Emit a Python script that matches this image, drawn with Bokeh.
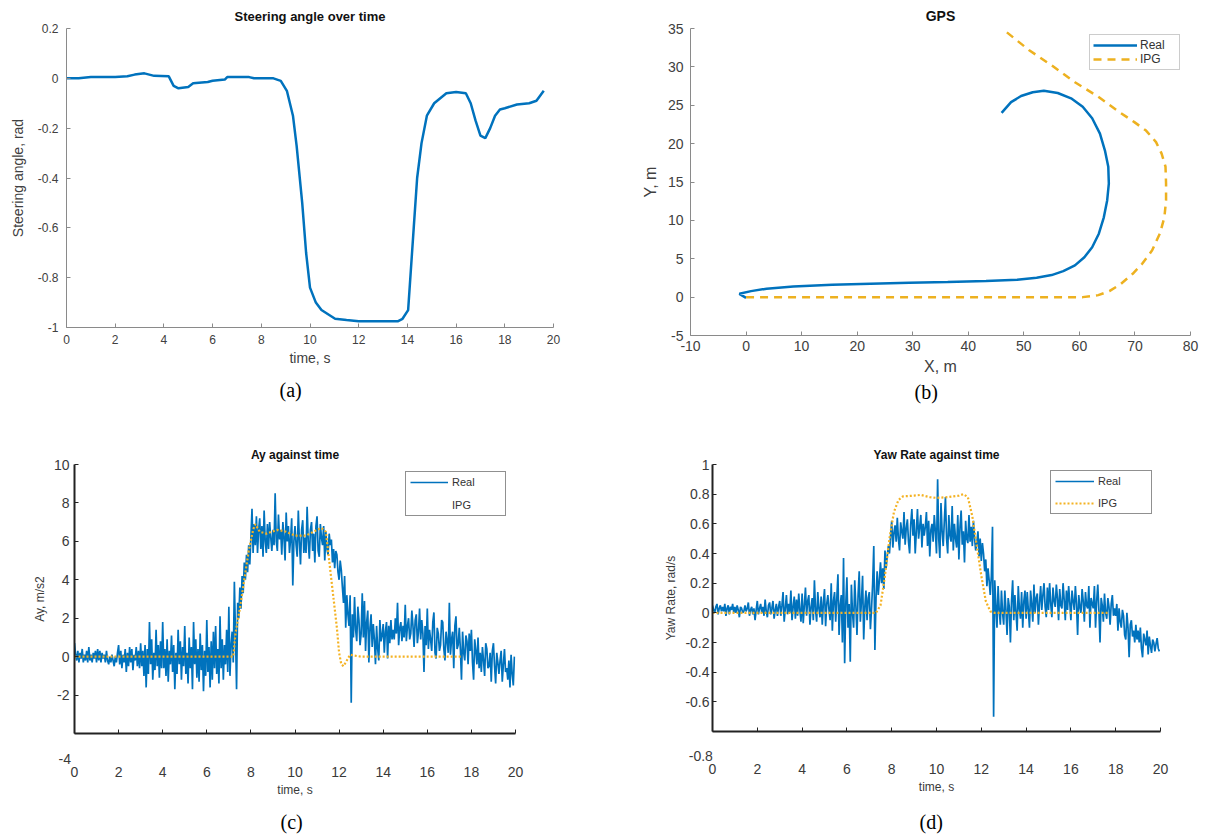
from bokeh.plotting import figure
from bokeh.models import Range1d, FixedTicker, Legend, LegendItem, Title
from bokeh.layouts import column, row
from bokeh.embed import file_html
from bokeh.resources import INLINE

# ---------------- data ----------------
# (a) steering angle
steer_t = [0, 0.5, 1, 2, 2.5, 2.8, 3.2, 3.6, 4.2, 4.4, 4.6, 5.0, 5.2, 5.8, 6.0, 6.5, 6.6, 7.5, 7.7, 8.5,
           8.8, 9.05, 9.3, 9.45, 9.68, 9.84, 10.0, 10.24, 10.47, 11.03, 11.5, 12.0, 13.0, 13.6, 13.8, 14.03,
           14.26, 14.4, 14.58, 14.8, 15.1, 15.6, 16.0, 16.4, 16.6, 16.8, 17.0, 17.2, 17.4, 17.6, 17.8, 18.0,
           18.5, 19.0, 19.3, 19.6]
steer_v = [0.0, 0.0, 0.005, 0.005, 0.008, 0.015, 0.02, 0.01, 0.008, -0.03, -0.04, -0.035, -0.02, -0.015,
           -0.01, -0.005, 0.005, 0.005, 0.0, 0.0, -0.01, -0.05, -0.15, -0.27, -0.5, -0.7, -0.84, -0.9, -0.93,
           -0.965, -0.97, -0.975, -0.975, -0.975, -0.965, -0.93, -0.6, -0.4, -0.26, -0.15, -0.1, -0.06,
           -0.055, -0.06, -0.1, -0.17, -0.23, -0.24, -0.2, -0.15, -0.125, -0.12, -0.105, -0.1, -0.09, -0.05]

# (b) GPS
gps_real_x = [0, -1.2, 0.9, 3.7, 8.5, 15.5, 22.4, 29.4, 36.3, 43.2, 48.8, 52.3, 55.0, 57.1, 59.2, 60.9,
              62.3, 63.5, 64.4, 65.0, 65.3, 65.2, 64.6, 63.7, 62.3, 60.6, 58.5, 56.1, 53.6, 51.6, 49.5,
              47.7, 46.0]
gps_real_y = [-0.1, 0.43, 0.78, 1.1, 1.39, 1.6, 1.74, 1.87, 1.96, 2.09, 2.26, 2.52, 2.87, 3.39, 4.13, 5.2,
              6.5, 8.26, 10.4, 12.6, 14.8, 17.0, 19.1, 21.3, 23.3, 24.8, 25.9, 26.6, 26.9, 26.7, 26.2,
              25.4, 24.0]
gps_ipg_x = [0, 10, 20, 30, 40, 50, 60.6, 63.4, 65.4, 67.5, 69.6, 71.3, 73.1, 74.5, 75.3, 75.6, 75.6,
             75.5, 74.8, 73.8, 72.0, 69.9, 66.8, 63.4, 59.2, 55.0, 50.9, 46.6]
gps_ipg_y = [0, 0, 0, 0, 0, 0, 0, 0.26, 0.78, 1.74, 3.04, 4.35, 6.1, 8.3, 10.4, 12.6, 14.8,
             17.0, 18.7, 20.2, 21.7, 22.8, 24.3, 26.1, 28.0, 30.2, 32.2, 34.7]

# sample times of the measured signals (s)
sig_t = [
    0.0, 0.05, 0.1, 0.15, 0.2, 0.25, 0.3, 0.35, 0.4, 0.45, 0.5, 0.55, 0.6, 0.65, 0.7, 0.75, 0.8, 0.85, 0.9, 0.95,
    1.0, 1.05, 1.1, 1.15, 1.2, 1.25, 1.3, 1.35, 1.4, 1.45, 1.5, 1.55, 1.6, 1.65, 1.7, 1.75, 1.8, 1.85, 1.9, 1.95,
    2.0, 2.05, 2.1, 2.15, 2.2, 2.25, 2.3, 2.35, 2.4, 2.45, 2.5, 2.55, 2.6, 2.65, 2.7, 2.75, 2.8, 2.85, 2.9, 2.95,
    3.0, 3.05, 3.1, 3.15, 3.2, 3.25, 3.3, 3.35, 3.4, 3.45, 3.5, 3.55, 3.6, 3.65, 3.7, 3.75, 3.8, 3.85, 3.9, 3.95,
    4.0, 4.05, 4.1, 4.15, 4.2, 4.25, 4.3, 4.35, 4.4, 4.45, 4.5, 4.55, 4.6, 4.65, 4.7, 4.75, 4.8, 4.85, 4.9, 4.95,
    5.0, 5.05, 5.1, 5.15, 5.2, 5.25, 5.3, 5.35, 5.4, 5.45, 5.5, 5.55, 5.6, 5.65, 5.7, 5.75, 5.8, 5.85, 5.9, 5.95,
    6.0, 6.05, 6.1, 6.15, 6.2, 6.25, 6.3, 6.35, 6.4, 6.45, 6.5, 6.55, 6.6, 6.65, 6.7, 6.75, 6.8, 6.85, 6.9, 6.95,
    7.0, 7.05, 7.1, 7.15, 7.2, 7.25, 7.3, 7.35, 7.4, 7.45, 7.5, 7.55, 7.6, 7.65, 7.7, 7.75, 7.8, 7.85, 7.9, 7.95,
    8.0, 8.05, 8.1, 8.15, 8.2, 8.25, 8.3, 8.35, 8.4, 8.45, 8.5, 8.55, 8.6, 8.65, 8.7, 8.75, 8.8, 8.85, 8.9, 8.95,
    9.0, 9.05, 9.1, 9.15, 9.2, 9.25, 9.3, 9.35, 9.4, 9.45, 9.5, 9.55, 9.6, 9.65, 9.7, 9.75, 9.8, 9.85, 9.9, 9.95,
    10.0, 10.05, 10.1, 10.15, 10.2, 10.25, 10.3, 10.35, 10.4, 10.45, 10.5, 10.55, 10.6, 10.65, 10.7, 10.75, 10.8, 10.85, 10.9, 10.95,
    11.0, 11.05, 11.1, 11.15, 11.2, 11.25, 11.3, 11.35, 11.4, 11.45, 11.5, 11.55, 11.6, 11.65, 11.7, 11.75, 11.8, 11.85, 11.9, 11.95,
    12.0, 12.05, 12.1, 12.15, 12.2, 12.25, 12.3, 12.35, 12.4, 12.45, 12.5, 12.55, 12.6, 12.65, 12.7, 12.75, 12.8, 12.85, 12.9, 12.95,
    13.0, 13.05, 13.1, 13.15, 13.2, 13.25, 13.3, 13.35, 13.4, 13.45, 13.5, 13.55, 13.6, 13.65, 13.7, 13.75, 13.8, 13.85, 13.9, 13.95,
    14.0, 14.05, 14.1, 14.15, 14.2, 14.25, 14.3, 14.35, 14.4, 14.45, 14.5, 14.55, 14.6, 14.65, 14.7, 14.75, 14.8, 14.85, 14.9, 14.95,
    15.0, 15.05, 15.1, 15.15, 15.2, 15.25, 15.3, 15.35, 15.4, 15.45, 15.5, 15.55, 15.6, 15.65, 15.7, 15.75, 15.8, 15.85, 15.9, 15.95,
    16.0, 16.05, 16.1, 16.15, 16.2, 16.25, 16.3, 16.35, 16.4, 16.45, 16.5, 16.55, 16.6, 16.65, 16.7, 16.75, 16.8, 16.85, 16.9, 16.95,
    17.0, 17.05, 17.1, 17.15, 17.2, 17.25, 17.3, 17.35, 17.4, 17.45, 17.5, 17.55, 17.6, 17.65, 17.7, 17.75, 17.8, 17.85, 17.9, 17.95,
    18.0, 18.05, 18.1, 18.15, 18.2, 18.25, 18.3, 18.35, 18.4, 18.45, 18.5, 18.55, 18.6, 18.65, 18.7, 18.75, 18.8, 18.85, 18.9, 18.95,
    19.0, 19.05, 19.1, 19.15, 19.2, 19.25, 19.3, 19.35, 19.4, 19.45, 19.5, 19.55, 19.6, 19.65, 19.7, 19.75, 19.8, 19.85, 19.9, 19.95]

# (c) lateral acceleration, measured (m/s2)
ay_real = [
    0.7, 0.1, -0.2, 0.3, -0.3, 0.2, -0.1, 0.4, -0.3, 0.1, -0.2, 0.3, -0.3, 0.5, -0.2, 0.1, -0.3, 0.2, -0.1, 0.3,
    -0.3, 0.4, -0.2, 0.3, -0.3, 0.2, -0.1, 0.1, -0.3, 0.3, -0.2, -0.4, 0.0, -0.3, 0.1, -0.2, -0.5, 0.0, -0.3, 0.2,
    0.6, -0.4, 0.3, -0.6, 0.1, -0.3, 0.4, -0.8, 0.2, -0.5, 0.5, -0.3, 0.4, -0.7, 0.1, -0.2, 0.5, -0.5, 0.3, -0.6,
    0.7, -0.5, 0.3, -1.0, 0.6, -1.6, 0.4, -0.9, 1.8, -0.4, 0.9, -1.2, 0.2, -0.7, 1.4, -0.5, 0.6, -1.1, 0.8, -0.6,
    1.8, -0.6, 0.4, -1.0, 0.9, -1.3, 0.3, -0.4, 1.1, -0.8, 0.6, -1.7, 0.2, -0.9, 1.4, -0.4, 0.8, -1.2, 0.5, -0.5,
    1.6, -0.9, 0.2, -1.4, 1.0, -0.6, 0.5, -1.7, 1.8, -0.4, 0.9, -1.1, 0.4, -1.3, 1.2, -0.7, 0.6, -1.8, 0.3, -1.0,
    1.9, -0.8, 0.5, -1.6, 0.8, -1.2, 1.3, -0.6, 1.6, -0.9, 0.4, -1.4, 2.1, -0.6, 0.9, -1.2, 0.6, -0.4, 1.4, -0.8,
    2.6, -1.0, 0.6, 1.3, -0.3, 3.9, 1.2, -1.7, 2.8, 2.0, 3.6, 2.5, 4.2, 3.3, 4.9, 4.0, 5.3, 4.4, 5.8, 4.8,
    6.2, 7.7, 5.4, 6.9, 5.8, 7.3, 5.4, 6.6, 7.2, 5.6, 6.8, 5.2, 7.6, 6.0, 5.4, 6.9, 5.6, 7.0, 6.2, 5.5,
    6.6, 5.8, 8.5, 6.0, 5.5, 7.4, 6.1, 6.6, 5.3, 7.0, 6.2, 5.0, 7.5, 6.0, 6.8, 5.4, 6.1, 7.2, 3.7, 6.0,
    6.8, 5.8, 5.2, 7.6, 6.0, 4.8, 6.6, 7.1, 5.4, 6.2, 5.4, 7.8, 6.0, 5.1, 6.6, 7.0, 5.5, 6.4, 4.9, 6.8,
    7.3, 5.5, 5.2, 6.9, 6.2, 5.8, 6.8, 5.0, 6.5, 5.6, 5.3, 6.4, 5.8, 6.1, 4.9, 5.6, 4.6, 5.5, 5.3, 4.4,
    4.0, 5.0, 4.5, 3.6, 2.8, 4.2, 1.5, 3.2, 2.2, 1.6, 3.2, -2.4, 2.2, 1.0, 3.1, 1.4, 0.8, 2.6, 1.9, 0.6,
    1.2, 3.3, 1.0, 2.9, 0.3, 1.8, 2.4, -0.3, 1.5, 2.2, 0.5, 1.7, 0.9, -0.4, 1.6, 0.4, -0.2, 1.9, 0.8, 1.1,
    1.7, 0.2, 1.3, 1.8, -0.1, 1.6, 0.7, 1.9, 0.9, 1.4, 0.9, 2.0, 1.2, 2.8, 0.6, 1.5, 1.8, 0.8, 1.6, 1.0,
    2.7, 0.8, 1.6, 2.0, 0.9, 1.2, 2.4, 1.6, 0.5, 1.9, 2.2, 0.7, 1.3, 2.5, 0.9, 1.9, 1.2, -0.8, 1.6, 0.6,
    2.5, 0.4, 1.4, 0.9, 0.3, 1.8, 2.3, 0.2, -0.1, 1.5, 1.2, 0.3, 0.6, 1.9, 1.8, 0.4, -0.2, 1.3, 0.8, 0.2,
    2.8, 0.1, 0.9, 1.3, -0.6, 1.6, 2.1, 0.4, 0.6, 1.5, 0.4, -1.2, 1.3, 0.2, -0.2, 1.1, 0.8, -0.4, 1.2, 0.3,
    1.4, -0.3, -1.2, 0.9, 0.3, -0.4, 1.0, -0.6, 0.2, -0.8, 0.5, -0.2, -1.0, 0.7, 0.4, -0.6, -0.5, 0.2, -1.3, 0.3,
    0.7, -0.5, -1.4, 0.2, -0.3, -0.9, -0.2, 0.3, -1.3, -0.4, 0.4, -0.8, -0.6, -1.2, -0.2, -1.6, 0.1, -0.9, -1.5, 0.0]
ay_ipg_t = [0, 7.2, 7.3, 7.5, 7.7, 7.9, 8.1, 8.2, 8.4, 8.7, 9.2, 9.6, 10.0, 10.5, 11.0, 11.2, 11.4, 11.5,
            11.7, 11.9, 12.0, 12.1, 12.2, 12.35, 12.5, 12.7, 13.0, 17.6]
ay_ipg = [0, 0, 1.2, 2.5, 4.0, 5.5, 6.6, 6.9, 6.5, 6.4, 6.6, 6.5, 6.3, 6.3, 6.6, 6.7, 6.5, 5.5,
          3.5, 1.5, 0.2, -0.4, -0.5, -0.2, 0.1, 0.05, 0, 0]

# (d) yaw rate, measured (rad/s)
yaw_real = [
    0.05, 0.02, 0.0, 0.04, 0.06, -0.01, 0.03, 0.05, 0.01, 0.04, 0.01, 0.06, -0.02, 0.03, 0.05, -0.01, 0.04, 0.02, 0.06, 0.0,
    0.04, 0.0, 0.05, 0.02, -0.03, 0.04, 0.03, 0.0, 0.01, 0.05, 0.01, 0.03, 0.07, -0.02, 0.02, 0.04, -0.01, 0.03, -0.05, 0.02,
    0.08, -0.01, 0.03, 0.06, 0.0, 0.04, -0.02, 0.09, 0.01, -0.03, 0.05, 0.07, -0.01, 0.03, 0.08, -0.04, 0.02, 0.06, -0.02, 0.04,
    0.08, -0.02, 0.05, 0.14, -0.06, 0.03, 0.12, -0.01, 0.06, 0.0, 0.15, -0.05, 0.04, 0.11, -0.04, 0.09, -0.02, 0.13, 0.02, -0.06,
    0.13, -0.07, 0.05, 0.17, -0.02, 0.08, 0.12, -0.08, 0.04, 0.1, -0.05, 0.22, 0.02, -0.06, 0.14, 0.03, -0.03, 0.11, -0.08, 0.07,
    0.16, -0.09, 0.06, 0.12, 0.02, -0.05, 0.2, -0.12, 0.08, 0.14, -0.06, 0.1, 0.26, -0.15, 0.05, 0.12, -0.2, 0.37, -0.34, 0.06,
    0.24, -0.1, 0.06, -0.33, 0.19, 0.0, -0.1, 0.22, 0.05, -0.15, 0.12, 0.28, -0.06, 0.08, 0.25, -0.18, 0.04, 0.15, -0.05, 0.1,
    0.14, -0.11, 0.03, 0.2, 0.45, -0.25, 0.1, 0.28, 0.12, 0.22, 0.34, 0.2, 0.3, 0.16, 0.42, 0.3, 0.38, 0.45, 0.4, 0.52,
    0.62, 0.44, 0.54, 0.59, 0.48, 0.64, 0.5, 0.42, 0.61, 0.55, 0.5, 0.68, 0.46, 0.57, 0.63, 0.48, 0.4, 0.6, 0.7, 0.52,
    0.63, 0.4, 0.55, 0.7, 0.5, 0.58, 0.66, 0.44, 0.6, 0.52, 0.58, 0.68, 0.45, 0.62, 0.38, 0.56, 0.6, 0.48, 0.66, 0.55,
    0.4, 0.9, 0.5, 0.37, 0.74, 0.55, 0.45, 0.62, 0.78, 0.5, 0.4, 0.66, 0.52, 0.48, 0.72, 0.42, 0.6, 0.5, 0.44, 0.66,
    0.36, 0.58, 0.69, 0.46, 0.55, 0.34, 0.62, 0.5, 0.47, 0.66, 0.48, 0.58, 0.45, 0.62, 0.5, 0.42, 0.47, 0.55, 0.38, 0.5,
    0.35, 0.47, 0.4, 0.28, 0.36, 0.18, 0.3, 0.22, 0.12, 0.25, 0.58, -0.7, 0.22, 0.05, -0.1, 0.18, 0.02, -0.08, 0.15, 0.0,
    -0.08, 0.15, 0.02, -0.15, 0.1, 0.04, -0.2, 0.08, 0.22, -0.05, 0.12, 0.0, -0.12, 0.18, 0.03, -0.04, 0.14, -0.1, 0.08, 0.15,
    -0.04, 0.14, 0.02, -0.1, 0.15, 0.06, -0.06, 0.19, 0.0, 0.1, 0.13, -0.08, 0.07, 0.18, 0.02, 0.12, 0.2, 0.04, -0.03, 0.17,
    0.02, 0.2, 0.06, -0.03, 0.17, 0.08, 0.04, 0.19, 0.1, -0.05, 0.16, 0.05, 0.03, 0.2, 0.09, -0.05, 0.15, 0.02, 0.18, 0.07,
    -0.05, 0.15, 0.08, 0.02, 0.18, 0.06, -0.15, 0.12, 0.04, 0.0, 0.16, 0.08, -0.06, 0.14, 0.05, 0.03, 0.18, -0.1, 0.1, 0.06,
    0.03, 0.18, -0.1, 0.08, 0.19, 0.02, -0.2, 0.1, 0.05, -0.06, 0.13, 0.0, -0.04, 0.1, 0.04, -0.08, 0.06, 0.12, -0.02, 0.03,
    -0.02, 0.06, -0.12, 0.03, -0.06, -0.1, 0.02, -0.02, -0.15, -0.18, 0.0, -0.1, -0.3, -0.08, -0.05, -0.16, -0.12, -0.2, -0.08, -0.18,
    -0.12, -0.2, -0.1, -0.24, -0.3, -0.14, -0.18, -0.22, -0.12, -0.28, -0.16, -0.22, -0.27, -0.18, -0.2, -0.26, -0.21, -0.17, -0.24, -0.26]
yaw_ipg_t = [0, 7.3, 7.5, 7.7, 7.9, 8.1, 8.3, 8.5, 9.0, 9.3, 9.7, 10.0, 10.5, 11.0, 11.2, 11.4, 11.6,
             11.8, 12.0, 12.2, 12.4, 12.6, 17.7]
yaw_ipg = [0, 0, 0.05, 0.25, 0.5, 0.68, 0.76, 0.785, 0.79, 0.795, 0.78, 0.775, 0.78, 0.79, 0.8, 0.78, 0.65,
           0.45, 0.25, 0.08, 0.01, 0, 0]

time_ticks = [0, 2, 4, 6, 8, 10, 12, 14, 16, 18, 20]
steer_ticks = [-1, -0.8, -0.6, -0.4, -0.2, 0, 0.2]
steer_labels = ["-1", "-0.8", "-0.6", "-0.4", "-0.2", "0", "0.2"]
gps_xticks = [-10, 0, 10, 20, 30, 40, 50, 60, 70, 80]
gps_xlabels = ["-10", "0", "10", "20", "30", "40", "50", "60", "70", "80"]
gps_yticks = [-5, 0, 5, 10, 15, 20, 25, 30, 35]
gps_ylabels = ["-5", "0", "5", "10", "15", "20", "25", "30", "35"]
ay_ticks = [-2, 0, 2, 4, 6, 8, 10]
ay_labels = ["-2", "0", "2", "4", "6", "8", "10"]
yaw_ticks = [-0.6, -0.4, -0.2, 0, 0.2, 0.4, 0.6, 0.8, 1]
yaw_labels = ["-0.6", "-0.4", "-0.2", "0", "0.2", "0.4", "0.6", "0.8", "1"]
NB = "\u00a0"

BLUE = "#0072BD"
ORANGE = "#EDB120"
ORANGE2 = "#F4B223"
FONT = "Liberation Sans"
SERIF = "Liberation Serif"


def make_fig(xr, yr, fw, fh, bl, br, bt, bb, title, tsize):
    p = figure(x_range=Range1d(*xr), y_range=Range1d(*yr), frame_width=fw, frame_height=fh,
               min_border_left=bl, min_border_right=br, min_border_top=bt, min_border_bottom=bb,
               output_backend="svg", toolbar_location=None, title=title)
    p.outline_line_color = None
    p.grid.visible = False
    p.background_fill_color = "white"
    p.border_fill_color = "white"
    p.title.align = "center"
    p.title.text_font = FONT
    p.title.text_font_style = "bold"
    p.title.text_font_size = tsize
    p.title.text_color = "#111111"
    for ax in (p.xaxis[0], p.yaxis[0]):
        ax.major_tick_in = 4
        ax.major_tick_out = 0
        ax.minor_tick_line_color = None
        ax.major_label_text_font = FONT
        ax.axis_label_text_font = FONT
        ax.axis_label_text_font_style = "normal"
    return p


def style_axes(p, color, width, tick_size, lab_size, tick_color, xstand, xlstand, ystand, ylstand):
    for ax in (p.xaxis[0], p.yaxis[0]):
        ax.axis_line_color = color
        ax.axis_line_width = width
        ax.major_tick_line_color = color
        ax.major_tick_line_width = 1
        ax.major_label_text_font_size = tick_size
        ax.major_label_text_color = tick_color
        ax.axis_label_text_font_size = lab_size
        ax.axis_label_text_color = tick_color
    p.xaxis[0].major_label_standoff = xstand
    p.xaxis[0].axis_label_standoff = xlstand
    p.yaxis[0].major_label_standoff = ystand
    p.yaxis[0].axis_label_standoff = ylstand


def caption(p, text, offset, standoff):
    p.add_layout(Title(text=text, align="left", offset=offset, standoff=standoff, text_font=SERIF,
                       text_font_size="20px", text_font_style="normal", text_color="black"), "below")


# ---------------- (a) ----------------
pa = make_fig((0, 20), (-1, 0.2), 487, 299, 66, 47, 28, 87, "Steering angle over time", "13px")
pa.title.standoff = 9
style_axes(pa, "#8a8a8a", 1, "12px", "14px", "#404040", 7, 3, 8, 9)
pa.xaxis[0].ticker = FixedTicker(ticks=time_ticks)
pa.yaxis[0].ticker = FixedTicker(ticks=steer_ticks)
pa.yaxis[0].major_label_overrides = dict(zip(steer_ticks, steer_labels))
pa.xaxis[0].axis_label = "time, s"
pa.yaxis[0].axis_label = "Steering angle, rad"
pa.line(steer_t, steer_v, line_color=BLUE, line_width=2.5)
caption(pa, "(a)", 213, 16)

# ---------------- (b) ----------------
pb = make_fig((-10, 80), (-5, 35), 500, 307, 90, 24, 28, 79, "GPS", "14px")
pb.title.standoff = 9
style_axes(pb, "#8a8a8a", 1, "14px", "16px", "#404040", 5, 4, 7, 6)
pb.xaxis[0].ticker = FixedTicker(ticks=gps_xticks)
pb.yaxis[0].ticker = FixedTicker(ticks=gps_yticks)
pb.xaxis[0].major_label_overrides = dict(zip(gps_xticks, gps_xlabels))
pb.yaxis[0].major_label_overrides = dict(zip(gps_yticks, gps_ylabels))
pb.xaxis[0].axis_label = "X, m"
pb.yaxis[0].axis_label = "Y, m"
rb1 = pb.line(gps_real_x, gps_real_y, line_color=BLUE, line_width=2.5)
rb2 = pb.line(gps_ipg_x, gps_ipg_y, line_color=ORANGE, line_width=2.5, line_dash="8 6")
lb = Legend(items=[LegendItem(label="Real", renderers=[rb1]), LegendItem(label="IPG", renderers=[rb2])],
            location=(399, 265), margin=0, padding=3, spacing=0, glyph_width=44, glyph_height=12,
            label_height=12, label_standoff=3, label_width=36, label_text_font=FONT,
            label_text_font_size="12px", label_text_color="#333333", border_line_color="#999999",
            border_line_width=1.5, background_fill_color="white")
pb.add_layout(lb)
caption(pb, "(b)", 224, 2)

# ---------------- (c) ----------------
pc = make_fig((0, 20), (-4, 10), 441, 269, 74, 85, 50, 107, "Ay against time", "12px")
pc.title.standoff = 5
style_axes(pc, "#222222", 2, "14px", "12px", "#3a3a3a", 17, 0, 5, 4)
pc.xaxis[0].major_label_text_line_height = 0.85
pc.xaxis[0].ticker = FixedTicker(ticks=time_ticks)
pc.yaxis[0].ticker = FixedTicker(ticks=ay_ticks)
pc.yaxis[0].major_label_overrides = dict(zip(ay_ticks, ay_labels))
c_xlab = {t: NB + "\n" + str(t) for t in time_ticks}
c_xlab[0] = "-4" + NB * 5 + "\n0"
pc.xaxis[0].major_label_overrides = c_xlab
pc.xaxis[0].axis_label = "time, s"
pc.yaxis[0].axis_label = "Ay, m/s2"
rc1 = pc.line(sig_t, ay_real, line_color=BLUE, line_width=1.7)
pc.line(ay_ipg_t, ay_ipg, line_color=ORANGE2, line_width=2.2, line_dash="2 2")
rc_dummy = pc.line([], [], line_alpha=0)
lc = Legend(items=[LegendItem(label="Real", renderers=[rc1]), LegendItem(label="IPG", renderers=[rc_dummy])],
            location=(331, 217), margin=0, padding=4, spacing=11, glyph_width=38, glyph_height=12,
            label_height=12, label_standoff=4, label_width=49, label_text_font=FONT,
            label_text_font_size="11px", label_text_color="#333333", border_line_color="#222222",
            border_line_width=1.5, background_fill_color="white")
pc.add_layout(lc)
caption(pc, "(c)", 206, 17)

# ---------------- (d) ----------------
pd_ = make_fig((0, 20), (-0.8, 1), 448, 267, 112, 54, 48, 111, "Yaw Rate against time", "12px")
pd_.title.standoff = 5
style_axes(pd_, "#222222", 2, "14px", "12px", "#3a3a3a", 16, 0, 3, 4)
pd_.xaxis[0].major_label_text_line_height = 0.85
pd_.xaxis[0].ticker = FixedTicker(ticks=time_ticks)
pd_.yaxis[0].ticker = FixedTicker(ticks=yaw_ticks)
pd_.yaxis[0].major_label_overrides = dict(zip(yaw_ticks, yaw_labels))
d_xlab = {t: NB + "\n" + str(t) for t in time_ticks}
d_xlab[0] = "-0.8" + NB * 6 + "\n0"
pd_.xaxis[0].major_label_overrides = d_xlab
pd_.xaxis[0].axis_label = "time, s"
pd_.yaxis[0].axis_label = "Yaw Rate, rad/s"
rd1 = pd_.line(sig_t, yaw_real, line_color=BLUE, line_width=1.7)
rd2 = pd_.line(yaw_ipg_t, yaw_ipg, line_color=ORANGE2, line_width=2.2, line_dash="2 2")
ld = Legend(items=[LegendItem(label="Real", renderers=[rd1]), LegendItem(label="IPG", renderers=[rd2])],
            location=(338, 217), margin=0, padding=4, spacing=10, glyph_width=39, glyph_height=12,
            label_height=12, label_standoff=4, label_width=49, label_text_font=FONT,
            label_text_font_size="11px", label_text_color="#333333", border_line_color="#222222",
            border_line_width=1.5, background_fill_color="white")
pd_.add_layout(ld)
caption(pd_, "(d)", 207, 22)

layout = column(row(pa, pb, spacing=0), row(pc, pd_, spacing=0), spacing=0)
open("out.html", "w").write(file_html(layout, INLINE))
